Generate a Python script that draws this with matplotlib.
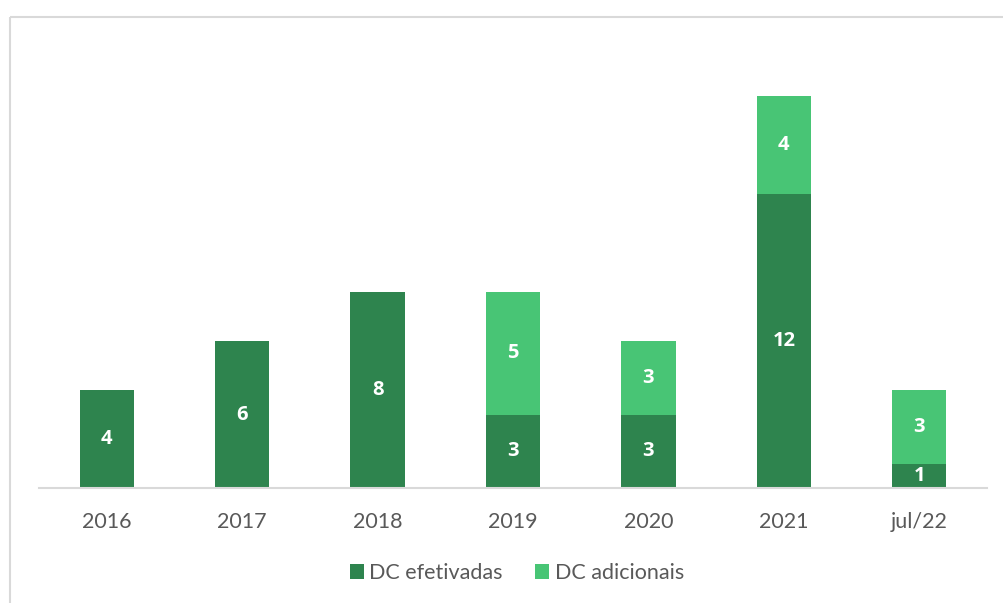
import matplotlib
matplotlib.use("Agg")
import matplotlib.pyplot as plt
from matplotlib.patches import Rectangle
import numpy as np

categories = ["2016", "2017", "2018", "2019", "2020", "2021", "jul/22"]
efetivadas = [4, 6, 8, 3, 3, 12, 1]
adicionais = [0, 0, 0, 5, 3, 4, 3]

dark = "#2E844E"
light = "#48C575"

plt.rcParams["font.family"] = ["Lato", "DejaVu Sans"]

W, H = 1004, 603
fig = plt.figure(figsize=(W / 100, H / 100), dpi=100)

# chart frame, partly cut off at right/bottom
fig.patches.append(Rectangle((9.5 / W, 1 - 16.5 / H), 1.2, -1.2,
                             transform=fig.transFigure, fill=False,
                             edgecolor="#D9D9D9", linewidth=1.5))

ax = fig.add_axes([39 / W, (H - 488) / H, 948 / W, 441 / H])
x = np.arange(len(categories))
w = 0.4
b1 = ax.bar(x, efetivadas, w, color=dark, label="DC efetivadas")
b2 = ax.bar(x, adicionais, w, bottom=efetivadas, color=light, label="DC adicionais")

label_font = dict(ha="center", va="center", color="white", fontsize=14.5,
                  fontweight="bold", family=["Open Sans", "DejaVu Sans"])
for xi, v in zip(x, efetivadas):
    if v:
        ax.text(xi, v / 2, str(v), **label_font)
for xi, v, b in zip(x, adicionais, efetivadas):
    if v:
        ax.text(xi, b + v / 2, str(v), **label_font)

ax.set_xlim(-0.5, len(categories) - 0.5)
ax.set_ylim(0, 18)
ax.set_yticks([])
for s in ["top", "right", "left"]:
    ax.spines[s].set_visible(False)
ax.spines["bottom"].set_color("#D9D9D9")
ax.spines["bottom"].set_linewidth(1.5)
ax.set_xticks(x)
ax.set_xticklabels(categories, fontsize=15.5, color="#595959")
ax.tick_params(axis="x", length=0, pad=17)

leg = fig.legend(handles=[b1, b2], loc="center", bbox_to_anchor=(517 / W, 1 - 573 / H),
                 ncol=2, frameon=False, fontsize=15.5, handlelength=0.65,
                 handleheight=0.65, handletextpad=0.25, columnspacing=1.5)
for t in leg.get_texts():
    t.set_color("#595959")

fig.savefig("out.png", dpi=100)
